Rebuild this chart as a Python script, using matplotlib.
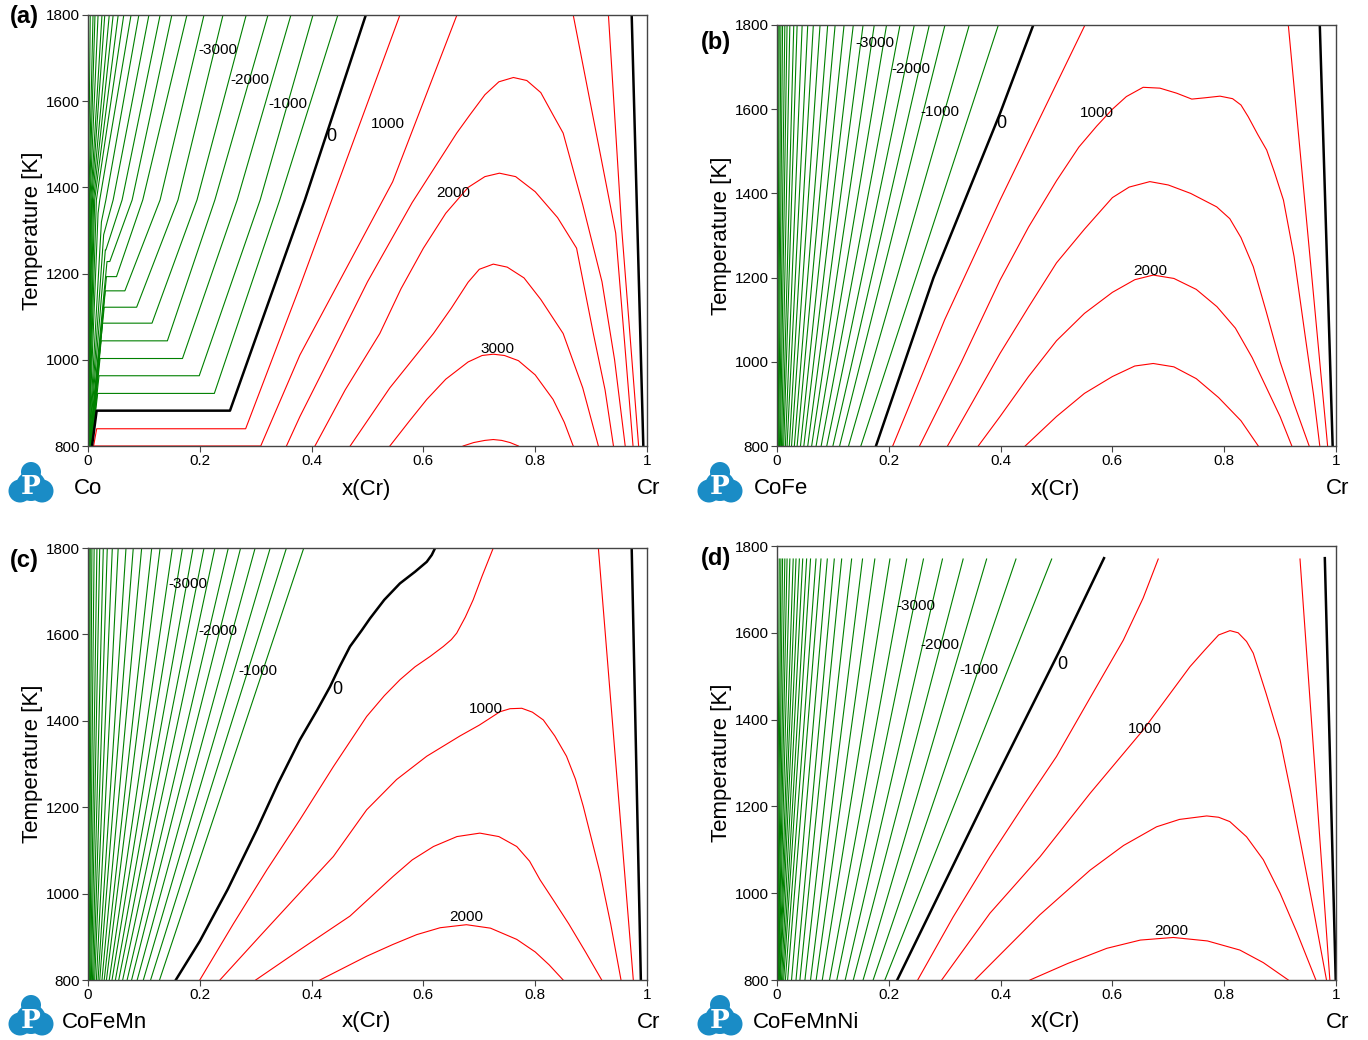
import matplotlib.pyplot as plt
from matplotlib.patches import Circle

plt.rcParams['font.family'] = ['Liberation Sans', 'DejaVu Sans']

GREEN = '#008000'
RED = '#ff0000'

# ---------------- panel (a): Co - Cr ----------------
a_green_x = [
    [0.0065, 0.0173, 0.226, 0.343, 0.447],
    [0.0060, 0.0197, 0.199, 0.308, 0.4025],
    [0.0055, 0.0215, 0.169, 0.267, 0.363],
    [0.0050, 0.0235, 0.142, 0.227, 0.322],
    [0.0045, 0.0260, 0.1145, 0.195, 0.283],
    [0.0040, 0.0290, 0.087, 0.161, 0.2415],
    [0.0035, 0.0310, 0.066, 0.129, 0.2075],
    [0.0030, 0.0330, 0.051, 0.098, 0.177],
    [0.0025, 0.0340, 0.039, 0.079, 0.150],
    [0.0020, 0.0310, 0.032, 0.061, 0.129],
    [0.0018, 0.028, 0.045, 0.109],
    [0.0015, 0.024, 0.032, 0.091],
    [0.0012, 0.018, 0.021, 0.077],
    [0.0010, 0.015, 0.064],
    [0.0008, 0.012, 0.054],
    [0.0006, 0.010, 0.045],
    [0.0005, 0.008, 0.038],
    [0.0004, 0.0065, 0.030],
    [0.0003, 0.005, 0.025],
    [0.0002, 0.0035, 0.018],
    [0.0001, 0.0025, 0.0125],
    [0.0, 0.0015, 0.009],
    [0.0, 0.0008, 0.004],
]
a_green_T = [
    [800, 922, 922, 1371, 1800],
    [800, 963, 963, 1371, 1800],
    [800, 1003, 1003, 1371, 1800],
    [800, 1044, 1044, 1371, 1800],
    [800, 1085, 1085, 1371, 1800],
    [800, 1122, 1122, 1371, 1800],
    [800, 1160, 1160, 1371, 1800],
    [800, 1193, 1193, 1371, 1800],
    [800, 1228, 1228, 1371, 1800],
    [800, 1255, 1255, 1371, 1800],
    [800, 1290, 1371, 1800],
    [800, 1320, 1371, 1800],
    [800, 1340, 1371, 1800],
    [800, 1371, 1800],
    [800, 1371, 1800],
    [800, 1371, 1800],
    [800, 1371, 1800],
    [800, 1371, 1800],
    [800, 1371, 1800],
    [800, 1371, 1800],
    [800, 1371, 1800],
    [800, 1371, 1800],
    [800, 1371, 1800],
]
a_red_x = [
    [0.010, 0.0155, 0.282, 0.379, 0.558],
    [0.931, 0.955, 0.985],
    [0.010, 0.309, 0.379, 0.545, 0.66],
    [0.868, 0.944, 0.975],
    [0.355, 0.379, 0.44, 0.5, 0.58, 0.6596, 0.683, 0.71, 0.735, 0.761, 0.785, 0.81, 0.832,
     0.85, 0.885, 0.9195, 0.942, 0.961],
    [0.406, 0.46, 0.522, 0.56, 0.600, 0.64, 0.68, 0.71, 0.736, 0.765, 0.80, 0.84, 0.874,
     0.904, 0.925, 0.940],
    [0.469, 0.54, 0.618, 0.65, 0.68, 0.70, 0.725, 0.75, 0.78, 0.81, 0.850, 0.885, 0.913],
    [0.540, 0.575, 0.606, 0.64, 0.68, 0.705, 0.725, 0.745, 0.77, 0.80, 0.832, 0.852, 0.868],
    [0.671, 0.69, 0.71, 0.725, 0.74, 0.755, 0.770],
]
a_red_T = [
    [800, 840, 840, 1170, 1800],
    [1800, 1300, 800],
    [800, 800, 1011, 1413, 1800],
    [1800, 1294, 800],
    [800, 868, 1025, 1181, 1365, 1526, 1568, 1615, 1645, 1655, 1648, 1620, 1568,
     1526, 1360, 1181, 1000, 800],
    [800, 930, 1061, 1165, 1259, 1340, 1400, 1425, 1433, 1425, 1390, 1330, 1259,
     1061, 930, 800],
    [800, 935, 1061, 1120, 1180, 1210, 1222, 1215, 1190, 1140, 1061, 935, 800],
    [800, 858, 908, 955, 995, 1010, 1013, 1010, 998, 965, 908, 855, 800],
    [800, 808, 813, 815, 813, 808, 800],
]
a_black_x = [[0.0072, 0.0155, 0.254, 0.388, 0.497], [0.9726, 0.9934]]
a_black_T = [[800, 882, 882, 1371, 1800], [1800, 800]]
a_lab_text = ['-3000', '-2000', '-1000', '0', '1000', '2000', '3000']
a_lab_x = [0.2326, 0.290, 0.358, 0.4347, 0.537, 0.653, 0.7317]
a_lab_T = [1719, 1649, 1594, 1519, 1547, 1387, 1025]

# ---------------- panel (b): CoFe - Cr ----------------
b_green_top = [0.396, 0.344, 0.3005, 0.2725, 0.2456, 0.220, 0.196, 0.174, 0.154, 0.1365,
               0.120, 0.104, 0.0907, 0.077, 0.065, 0.055, 0.045, 0.036, 0.030, 0.023,
               0.018, 0.014, 0.010, 0.007, 0.004, 0.002]
b_green_bot = [0.150, 0.128, 0.112, 0.100, 0.089, 0.079, 0.070, 0.062, 0.055, 0.048,
               0.042, 0.036, 0.031, 0.026, 0.022, 0.018, 0.015, 0.012, 0.010, 0.008,
               0.006, 0.0045, 0.003, 0.002, 0.001, 0.0005]
b_red_x = [
    [0.207, 0.30, 0.399, 0.551],
    [0.9147, 0.985],
    [0.255, 0.33, 0.399, 0.45, 0.50, 0.54, 0.572, 0.60, 0.625, 0.655, 0.685, 0.715, 0.742,
     0.765, 0.7925, 0.815, 0.83, 0.843, 0.86, 0.876, 0.89, 0.906, 0.925, 0.945, 0.96, 0.971],
    [0.305, 0.35, 0.399, 0.45, 0.50, 0.55, 0.60, 0.63, 0.667, 0.70, 0.74, 0.7866, 0.81,
     0.83, 0.852, 0.875, 0.90, 0.925, 0.952],
    [0.36, 0.399, 0.45, 0.50, 0.55, 0.60, 0.64, 0.673, 0.71, 0.75, 0.787, 0.82, 0.85,
     0.875, 0.90, 0.921],
    [0.444, 0.50, 0.55, 0.60, 0.64, 0.673, 0.71, 0.75, 0.79, 0.83, 0.861],
]
b_red_T = [
    [800, 1100, 1384, 1800],
    [1800, 800],
    [800, 1000, 1194, 1320, 1430, 1510, 1560, 1600, 1630, 1652, 1650, 1638, 1624,
     1627, 1631, 1625, 1610, 1582, 1540, 1503, 1450, 1384, 1250, 1060, 920, 800],
    [800, 905, 1020, 1130, 1235, 1315, 1390, 1415, 1428, 1420, 1400, 1368, 1340,
     1295, 1226, 1120, 1000, 900, 800],
    [800, 870, 965, 1050, 1115, 1165, 1195, 1206, 1198, 1172, 1131, 1080, 1010,
     940, 870, 800],
    [800, 870, 925, 965, 990, 996, 988, 960, 915, 860, 800],
]
b_black_x = [[0.177, 0.28, 0.399, 0.4585], [0.971, 0.994]]
b_black_T = [[800, 1200, 1590, 1800], [1800, 800]]
b_lab_text = ['-3000', '-2000', '-1000', '0', '1000', '2000']
b_lab_x = [0.175, 0.240, 0.2916, 0.4007, 0.572, 0.667]
b_lab_T = [1757, 1695, 1593, 1565, 1591, 1216]

# ---------------- panel (c): CoFeMn - Cr ----------------
c_green_top = [0.386, 0.355, 0.326, 0.299, 0.273, 0.251, 0.227, 0.2075, 0.188, 0.169,
               0.151, 0.129, 0.114, 0.096, 0.081, 0.068, 0.054, 0.0435, 0.0345, 0.0274,
               0.021, 0.016, 0.011, 0.007, 0.004, 0.002]
c_green_bot = [0.128, 0.112, 0.099, 0.088, 0.078, 0.070, 0.062, 0.055, 0.049, 0.043,
               0.038, 0.033, 0.029, 0.025, 0.021, 0.018, 0.015, 0.012, 0.010, 0.008,
               0.006, 0.0045, 0.003, 0.002, 0.001, 0.0005]
c_red_x = [
    [0.200, 0.26, 0.32, 0.379, 0.439, 0.4985, 0.53, 0.558, 0.585, 0.612, 0.6356, 0.65,
     0.6596, 0.675, 0.689, 0.705, 0.725],
    [0.913, 0.9755],
    [0.236, 0.31, 0.379, 0.439, 0.4985, 0.552, 0.606, 0.6655, 0.70, 0.737, 0.755, 0.776,
     0.795, 0.8145, 0.835, 0.856, 0.872, 0.886, 0.90, 0.916, 0.935, 0.9535],
    [0.30, 0.379, 0.4687, 0.546, 0.58, 0.618, 0.66, 0.701, 0.735, 0.767, 0.79, 0.8086,
     0.835, 0.86, 0.89, 0.919],
    [0.415, 0.4985, 0.545, 0.588, 0.63, 0.677, 0.72, 0.767, 0.80, 0.825, 0.850],
]
c_red_T = [
    [800, 930, 1055, 1171, 1294, 1410, 1458, 1495, 1525, 1549, 1572, 1588, 1603, 1640,
     1680, 1735, 1800],
    [1800, 800],
    [800, 905, 1002, 1086, 1194, 1264, 1318, 1365, 1390, 1421, 1428, 1429, 1420, 1402,
     1365, 1318, 1265, 1202, 1130, 1048, 930, 800],
    [800, 870, 948, 1040, 1078, 1109, 1132, 1140, 1132, 1109, 1075, 1032, 980, 930,
     865, 800],
    [800, 855, 882, 905, 921, 928, 920, 894, 865, 835, 800],
]
c_black_x = [[0.157, 0.20, 0.25, 0.302, 0.34, 0.379, 0.41, 0.433, 0.45, 0.4687, 0.49,
              0.5045, 0.53, 0.558, 0.585, 0.606, 0.615, 0.621],
             [0.9726, 0.989]]
c_black_T = [[800, 890, 1010, 1148, 1255, 1356, 1425, 1479, 1525, 1572, 1610, 1637,
              1680, 1718, 1745, 1768, 1784, 1800],
             [1800, 800]]
c_lab_text = ['-3000', '-2000', '-1000', '0', '1000', '2000']
c_lab_x = [0.179, 0.2326, 0.304, 0.4454, 0.712, 0.676]
c_lab_T = [1717, 1608, 1516, 1472, 1428, 945]

# ---------------- panel (d): CoFeMnNi - Cr ----------------
d_green_top = [0.4914, 0.4275, 0.375, 0.333, 0.296, 0.262, 0.232, 0.202, 0.175, 0.153,
               0.1335, 0.1157, 0.1025, 0.090, 0.0787, 0.0698, 0.060, 0.053, 0.046, 0.040,
               0.034, 0.029, 0.023, 0.018, 0.014, 0.010, 0.007, 0.004]
d_green_bot = [0.193, 0.172, 0.154, 0.1365, 0.122, 0.107, 0.094, 0.081, 0.070, 0.060,
               0.050, 0.041, 0.034, 0.026, 0.019, 0.015, 0.012, 0.010, 0.008, 0.006,
               0.005, 0.004, 0.003, 0.0025, 0.002, 0.0015, 0.001, 0.0005]
d_red_x = [
    [0.2517, 0.315, 0.381, 0.44, 0.500, 0.56, 0.6195, 0.655, 0.682],
    [0.9356, 0.989],
    [0.2946, 0.381, 0.4705, 0.560, 0.655, 0.7388, 0.765, 0.79, 0.8104, 0.825, 0.84,
     0.852, 0.875, 0.900, 0.918, 0.9356, 0.96, 0.983],
    [0.354, 0.381, 0.47, 0.560, 0.62, 0.679, 0.72, 0.7687, 0.79, 0.810, 0.84, 0.870,
     0.90, 0.93, 0.964],
    [0.4526, 0.52, 0.590, 0.65, 0.709, 0.77, 0.828, 0.87, 0.9147],
]
d_red_T = [
    [800, 945, 1084, 1200, 1315, 1450, 1583, 1680, 1770],
    [1770, 800],
    [800, 954, 1084, 1230, 1376, 1522, 1560, 1595, 1605, 1600, 1580, 1553, 1460, 1353,
     1240, 1123, 960, 800],
    [800, 835, 950, 1053, 1110, 1153, 1170, 1178, 1175, 1165, 1130, 1077, 1000, 910, 800],
    [800, 838, 873, 892, 898, 890, 869, 840, 800],
]
d_black_x = [[0.215, 0.381, 0.506, 0.585], [0.980, 0.9995]]
d_black_T = [[800, 1238, 1560, 1772], [1772, 800]]
d_top_T = 1770
d_lab_text = ['-3000', '-2000', '-1000', '0', '1000', '2000']
d_lab_x = [0.2487, 0.2916, 0.3614, 0.5098, 0.658, 0.705]
d_lab_T = [1662, 1572, 1514, 1528, 1378, 913]

panel_tags = ['(a)', '(b)', '(c)', '(d)']
left_elements = ['Co', 'CoFe', 'CoFeMn', 'CoFeMnNi']
x_ticks = [0, 0.2, 0.4, 0.6, 0.8, 1]
x_ticklabels = ['0', '0.2', '0.4', '0.6', '0.8', '1']
y_ticks = [800, 1000, 1200, 1400, 1600, 1800]


def style_axes(ax):
    ax.set_xlim(0, 1)
    ax.set_ylim(800, 1800)
    ax.set_xticks(x_ticks)
    ax.set_xticklabels(x_ticklabels)
    ax.set_yticks(y_ticks)
    ax.tick_params(direction='out', length=4, width=0.8, color='#444444',
                   labelsize=11, pad=2)
    for s in ax.spines.values():
        s.set_color('#444444')
        s.set_linewidth(1.0)
    ax.set_ylabel('Temperature [K]', fontsize=16, labelpad=2)


def draw_lines(ax, xs, ts, color, lw):
    for x, t in zip(xs, ts):
        ax.plot(x, t, color=color, lw=lw, solid_joinstyle='round')


def draw_labels(ax, texts, xs, ts):
    # the zero isoline label is printed a little larger in the original
    for s, x, t in zip(texts, xs, ts):
        ax.text(x, t, s, fontsize=13 if s == '0' else 11,
                ha='center', va='center', zorder=5)


fig = plt.figure(figsize=(13.68, 10.40), dpi=100)
W, H = 1368.0, 1040.0


def add_axes_px(x0, y0, x1, y1):
    return fig.add_axes([x0 / W, 1 - y1 / H, (x1 - x0) / W, (y1 - y0) / H])


ax_a = add_axes_px(88, 15, 647, 446)
ax_b = add_axes_px(777, 25, 1336, 446)
ax_c = add_axes_px(88, 548, 647, 980)
ax_d = add_axes_px(777, 546, 1336, 980)

# (a)
draw_lines(ax_a, a_green_x, a_green_T, GREEN, 0.8)
draw_lines(ax_a, a_red_x, a_red_T, RED, 0.8)
draw_lines(ax_a, a_black_x, a_black_T, 'black', 1.8)
draw_labels(ax_a, a_lab_text, a_lab_x, a_lab_T)

# (b), (c), (d): green isolines run straight from bottom to top
for ax, gt, gb, rx, rt, bx, bt, lt, lx, lT, ytop in [
        (ax_b, b_green_top, b_green_bot, b_red_x, b_red_T, b_black_x, b_black_T,
         b_lab_text, b_lab_x, b_lab_T, 1800),
        (ax_c, c_green_top, c_green_bot, c_red_x, c_red_T, c_black_x, c_black_T,
         c_lab_text, c_lab_x, c_lab_T, 1800),
        (ax_d, d_green_top, d_green_bot, d_red_x, d_red_T, d_black_x, d_black_T,
         d_lab_text, d_lab_x, d_lab_T, d_top_T)]:
    for top, bot in zip(gt, gb):
        ax.plot([bot, top], [800, ytop], color=GREEN, lw=0.8)
    draw_lines(ax, rx, rt, RED, 0.8)
    draw_lines(ax, bx, bt, 'black', 1.8)
    draw_labels(ax, lt, lx, lT)

for ax in (ax_a, ax_b, ax_c, ax_d):
    style_axes(ax)

# overlay in pixel coordinates for tags, element names and logos
ov = fig.add_axes([0, 0, 1, 1])
ov.set_xlim(0, W)
ov.set_ylim(H, 0)
ov.axis('off')
ov.patch.set_alpha(0)

tag_pos = [(24, 17), (716, 42), (24, 560), (716, 558)]
for tag, (x, y) in zip(panel_tags, tag_pos):
    ov.text(x, y, tag, fontsize=17, fontweight='bold', ha='center', va='center')

bottom_rows = [(0, 489), (689, 489), (0, 1022), (689, 1022)]
name_x = [74, 754, 62, 753]
for (dx, y), name, nx in zip(bottom_rows, left_elements, name_x):
    ov.text(nx, y, name, fontsize=16, ha='left', va='center')
    ov.text(366 + dx, y, 'x(Cr)', fontsize=16, ha='center', va='center')
    ov.text(660 + dx, y, 'Cr', fontsize=16, ha='right', va='center')
    # logo
    cx, cy = 31 + dx, y - 5
    blue = '#1a8cc6'
    for (ox, oy, r) in [(0, -12, 10), (-11, 7, 11.5), (11, 7, 11.5), (0, 2, 15)]:
        ov.add_patch(Circle((cx + ox, cy + oy), r, color=blue, lw=0))
    ov.text(cx, cy + 3, 'P', fontsize=19, fontweight='bold', color='white',
            family='DejaVu Serif', ha='center', va='center')

fig.savefig('out.png', dpi=100)
